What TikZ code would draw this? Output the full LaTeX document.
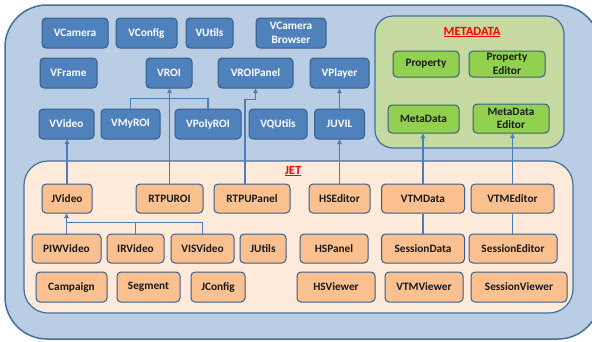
\documentclass[tikz,border=0pt]{standalone}
\usepackage{fontspec}
\setmainfont{Carlito}
\usetikzlibrary{arrows.meta,calc}
\definecolor{outerfill}{HTML}{B9CDE5}
\definecolor{outerline}{HTML}{41719C}
\definecolor{bluefill}{HTML}{4F81BD}
\definecolor{blueline}{HTML}{385D8A}
\definecolor{metafill}{HTML}{C6D9A0}
\definecolor{greenfill}{HTML}{92D050}
\definecolor{jetfill}{HTML}{FDEADA}
\definecolor{orangefill}{HTML}{FAC090}
\definecolor{conline}{HTML}{4A7EBB}
\tikzset{
  box/.style={draw=blueline, line width=1pt, rounded corners=4pt, inner sep=0pt,
    font=\fontsize{11.3}{13.5}\selectfont\bfseries, align=center},
  bluebox/.style={box, fill=bluefill, text=white},
  greenbox/.style={box, fill=greenfill, text=black!90},
  orangebox/.style={box, fill=orangefill, text=black!90},
  con/.style={draw=conline, line width=1.3pt},
  arr/.style={con, -{Triangle[length=4.5pt,width=4.5pt]}},
  grouplabel/.style={text=red, font=\fontsize{12.5}{14}\selectfont\bfseries, inner sep=0pt}
}
\newcommand{\redul}[1]{\underline{#1}}
\begin{document}
\begin{tikzpicture}[x=1pt,y=-1pt]
\useasboundingbox (0,0) rectangle (592,341);
\clip (0,0) rectangle (592,341);
% outer container
\draw[fill=outerfill, draw=outerline, line width=1.5pt, rounded corners=42pt] (5,5) rectangle (600,339);
% metadata container
\draw[fill=metafill, draw=outerline, line width=1.2pt, rounded corners=18pt] (375,16) rectangle (564,148);
% jet container
\draw[fill=jetfill, draw=outerline, line width=1.2pt, rounded corners=24pt] (24,161) rectangle (573,313);
\node[grouplabel] (metalabel) at (472,32) {\redul{METADATA}};
\node[grouplabel] (jetlabel) at (293,171) {\redul{JET}};

% blue boxes
\node[bluebox, minimum width=66pt, minimum height=30pt] (VCamera) at (75,33) {VCamera};
\node[bluebox, minimum width=61pt, minimum height=30pt] (VConfig) at (146.5,33) {VConfig};
\node[bluebox, minimum width=47pt, minimum height=30pt] (VUtils) at (209.5,33) {VUtils};
\node[bluebox, minimum width=70pt, minimum height=30pt] (VCameraBrowser) at (291,33) {VCamera\\Browser};
\node[bluebox, minimum width=57pt, minimum height=30pt] (VFrame) at (68.5,73) {VFrame};
\node[bluebox, minimum width=46pt, minimum height=30pt] (VROI) at (169,73) {VROI};
\node[bluebox, minimum width=75pt, minimum height=30pt] (VROIPanel) at (255.5,73) {VROIPanel};
\node[bluebox, minimum width=59pt, minimum height=30pt] (VPlayer) at (339.5,73) {VPlayer};
\node[bluebox, minimum width=55pt, minimum height=30pt] (VVideo) at (66.5,124) {VVideo};
\node[bluebox, minimum width=59pt, minimum height=30pt] (VMyROI) at (130.5,124) {VMyROI};
\node[bluebox, minimum width=66pt, minimum height=30pt] (VPolyROI) at (208,124) {VPolyROI};
\node[bluebox, minimum width=58pt, minimum height=30pt] (VQUtils) at (278,124) {VQUtils};
\node[bluebox, minimum width=50pt, minimum height=30pt] (JUVIL) at (339.5,124) {JUVIL};

% green boxes
\node[greenbox, minimum width=66pt, minimum height=26pt] (Property) at (426,64) {Property};
\node[greenbox, minimum width=76pt, minimum height=26pt] (PropertyEditor) at (507,64) {Property\\Editor};
\node[greenbox, minimum width=71pt, minimum height=28pt] (MetaData) at (423.5,119) {MetaData};
\node[greenbox, minimum width=76pt, minimum height=29pt] (MetaDataEditor) at (511,118.5) {MetaData\\Editor};

% orange boxes row 1
\node[orangebox, minimum width=50pt, minimum height=29pt] (JVideo) at (67,198.5) {JVideo};
\node[orangebox, minimum width=67pt, minimum height=29pt] (RTPUROI) at (169.5,198.5) {RTPUROI};
\node[orangebox, minimum width=76pt, minimum height=29pt] (RTPUPanel) at (252,198.5) {RTPUPanel};
\node[orangebox, minimum width=61pt, minimum height=29pt] (HSEditor) at (339.5,198.5) {HSEditor};
\node[orangebox, minimum width=83pt, minimum height=29pt] (VTMData) at (423,198.5) {VTMData};
\node[orangebox, minimum width=83pt, minimum height=29pt] (VTMEditor) at (512.5,198.5) {VTMEditor};
% row 2
\node[orangebox, minimum width=69pt, minimum height=29pt] (PIWVideo) at (66.5,248.5) {PIWVideo};
\node[orangebox, minimum width=57pt, minimum height=29pt] (IRVideo) at (135.5,248.5) {IRVideo};
\node[orangebox, minimum width=63pt, minimum height=29pt] (VISVideo) at (202.5,248.5) {VISVideo};
\node[orangebox, minimum width=46pt, minimum height=29pt] (JUtils) at (263,248.5) {JUtils};
\node[orangebox, minimum width=68pt, minimum height=29pt] (HSPanel) at (334,248.5) {HSPanel};
\node[orangebox, minimum width=83pt, minimum height=29pt] (SessionData) at (423,248.5) {SessionData};
\node[orangebox, minimum width=88pt, minimum height=29pt] (SessionEditor) at (513,248.5) {SessionEditor};
% row 3
\node[orangebox, minimum width=71pt, minimum height=30pt] (Campaign) at (71.5,287) {Campaign};
\node[orangebox, minimum width=63pt, minimum height=30pt] (Segment) at (148.5,287) {Segment};
\node[orangebox, minimum width=54pt, minimum height=30pt] (JConfig) at (218,287) {JConfig};
\node[orangebox, minimum width=78pt, minimum height=30pt] (HSViewer) at (336,287) {HSViewer};
\node[orangebox, minimum width=78pt, minimum height=30pt] (VTMViewer) at (424,287) {VTMViewer};
\node[orangebox, minimum width=96pt, minimum height=30pt] (SessionViewer) at (519,287) {SessionViewer};

% connectors
\draw[arr] (JVideo.north) -- (JVideo.north |- VVideo.south);
\draw[arr] (RTPUROI.north) -- (RTPUROI.north |- VROI.south);
\draw[con] (VMyROI.north) -- ++(0,-10) -| (VPolyROI.north);
\draw[arr] ([xshift=-7pt]RTPUPanel.north) -- ++(0,-84) -| (VROIPanel.south);
\draw[arr] (HSEditor.north) -- (HSEditor.north |- JUVIL.south);
\draw[arr] (JUVIL.north) -- (JUVIL.north |- VPlayer.south);
\draw[arr] (VTMData.north) -- (VTMData.north |- MetaData.south);
\draw[arr] (VTMEditor.north) -- (VTMEditor.north |- MetaDataEditor.south);
\draw[con] (VTMData.south) -- (VTMData.south |- SessionData.north);
\draw[con] (VTMEditor.south) -- (VTMEditor.south |- SessionEditor.north);
\draw[arr] (PIWVideo.north) -- (PIWVideo.north |- JVideo.south);
\draw[con] (IRVideo.north) -- ++(0,-11);
\draw[con] (VISVideo.north) -- ++(0,-11) -| (PIWVideo.north);
\end{tikzpicture}
\end{document}
